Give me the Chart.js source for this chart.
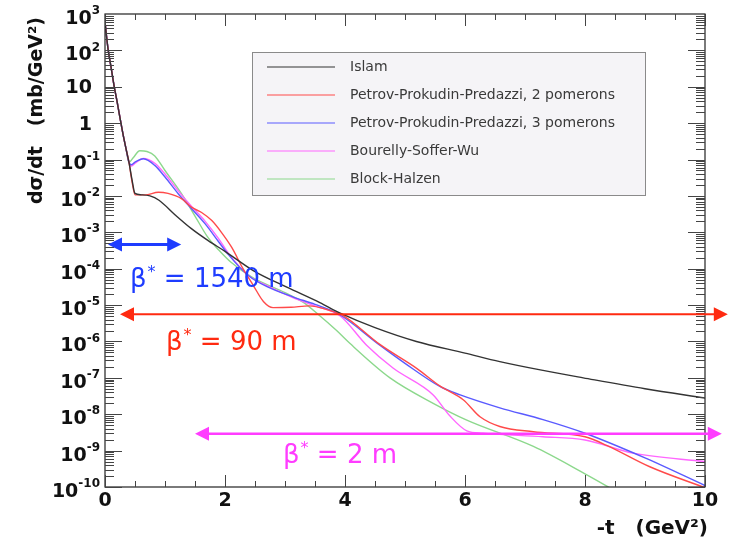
<!DOCTYPE html>
<html>
<head>
<meta charset="utf-8">
<script src="https://cdn.jsdelivr.net/npm/chart.js@4.4.0/dist/chart.umd.min.js"></script>
<style>
  body { margin: 0; background: #fff; }
  #wrap { width: 732px; height: 542px; }
</style>
</head>
<body>
<div id="wrap"><canvas id="c"></canvas></div>
<script>
// model curves: -t in GeV^2, dsigma/dt in mb/GeV^2
const models = [
  'Islam',
  'Petrov-Prokudin-Predazzi, 2 pomerons',
  'Petrov-Prokudin-Predazzi, 3 pomerons',
  'Bourelly-Soffer-Wu',
  'Block-Halzen'
];

const islamT = [0, 0.05, 0.1, 0.15, 0.2, 0.25, 0.3, 0.35, 0.4, 0.45, 0.5, 0.6, 0.75, 0.9, 1.17, 1.44, 1.72, 2.0, 2.47, 3.03, 3.58, 3.92, 4.5, 5.19, 6.0, 6.58, 7.3, 7.97, 9.0, 10];
const islamDs = [600, 112, 35, 11, 4.0, 1.4, 0.5, 0.2, 0.083, 0.028, 0.0117, 0.0107, 0.010, 0.0076, 0.0030, 0.00126, 5.9e-4, 3.0e-4, 8.9e-5, 3.1e-5, 1.17e-5, 6.0e-6, 2.4e-6, 1.0e-6, 4.8e-7, 2.8e-7, 1.6e-7, 1.0e-7, 5.0e-8, 2.8e-8];

const ppp2T = [0, 0.05, 0.1, 0.15, 0.2, 0.25, 0.3, 0.35, 0.4, 0.45, 0.5, 0.67, 0.89, 1.05, 1.28, 1.44, 1.61, 1.78, 1.94, 2.11, 2.3, 2.47, 2.64, 2.8, 3.1, 3.4, 3.75, 3.95, 4.58, 5.2, 5.58, 5.97, 6.25, 6.58, 7.14, 8.0, 8.36, 9.08, 10];
const ppp2Ds = [600, 112, 35, 11, 4.0, 1.4, 0.5, 0.2, 0.083, 0.025, 0.0107, 0.0107, 0.0126, 0.0117, 0.0083, 0.0049, 0.0035, 0.0021, 0.0010, 3.9e-4, 1.0e-4, 3.5e-5, 1.26e-5, 8.5e-6, 8.7e-6, 9.5e-6, 7.1e-6, 5.4e-6, 8.3e-7, 1.8e-7, 6.0e-8, 2.5e-8, 8.5e-9, 4.6e-9, 3.3e-9, 2.4e-9, 1.4e-9, 3.6e-10, 9.5e-11];

const ppp3T = [0, 0.05, 0.1, 0.15, 0.2, 0.25, 0.3, 0.35, 0.4, 0.44, 0.5, 0.64, 0.83, 1.0, 1.22, 1.44, 1.67, 1.89, 2.06, 2.4, 2.7, 3.14, 3.5, 3.9, 4.58, 5.0, 5.58, 5.92, 6.58, 7.3, 8.0, 9.0, 10];
const ppp3Ds = [600, 112, 35, 11, 4.0, 1.4, 0.5, 0.2, 0.083, 0.072, 0.085, 0.105, 0.069, 0.033, 0.0115, 0.0045, 0.0017, 5.6e-4, 2.4e-4, 6.3e-5, 3.2e-5, 1.66e-5, 1.05e-5, 5.6e-6, 7.9e-7, 2.5e-7, 5.8e-8, 3.4e-8, 1.5e-8, 7.1e-9, 3.0e-9, 6.3e-10, 1.1e-10];

const bswT = [0, 0.05, 0.1, 0.15, 0.2, 0.25, 0.3, 0.35, 0.4, 0.44, 0.5, 0.64, 0.83, 1.0, 1.22, 1.44, 1.67, 1.89, 2.06, 2.4, 2.7, 3.14, 3.5, 3.92, 4.36, 4.8, 5.47, 5.75, 6.03, 6.3, 6.58, 7.3, 8.0, 8.8, 10];
const bswDs = [600, 112, 35, 11, 4.0, 1.4, 0.5, 0.2, 0.083, 0.066, 0.079, 0.107, 0.079, 0.040, 0.0138, 0.0052, 0.0020, 6.8e-4, 2.6e-4, 6.3e-5, 3.4e-5, 1.58e-5, 9.5e-6, 5.0e-6, 7.9e-7, 1.86e-7, 3.4e-8, 8.9e-9, 3.5e-9, 3.0e-9, 2.8e-9, 2.4e-9, 1.95e-9, 8.5e-10, 5.0e-10];

const bhT = [0, 0.05, 0.1, 0.15, 0.2, 0.25, 0.3, 0.35, 0.4, 0.47, 0.58, 0.7, 0.83, 1.0, 1.28, 1.5, 1.7, 1.9, 2.1, 2.47, 3.0, 3.3, 3.55, 3.86, 4.08, 4.75, 5.47, 6.03, 7.14, 8.0, 8.5];
const bhDs = [600, 112, 35, 11, 4.0, 1.4, 0.5, 0.2, 0.083, 0.112, 0.174, 0.166, 0.126, 0.050, 0.0112, 0.0028, 7.9e-4, 3.2e-4, 1.5e-4, 5.6e-5, 2.2e-5, 1.2e-5, 5.6e-6, 2.0e-6, 8.9e-7, 1.0e-7, 2.0e-8, 6.9e-9, 1.3e-9, 2.3e-10, 7.9e-11];

// beta* reach arrows: t range and the level they sit at
const beamLabels = ['1540 m', '90 m', '2 m'];
const beamTFrom = [0.05, 0.25, 1.5];
const beamTTo = [1.27, 10.38, 10.28];
const beamLevel = [4.6e-4, 5.6e-6, 2.9e-9];

// axes
const xTickValues = [0, 2, 4, 6, 8, 10];
const xTickLabels = ['0', '2', '4', '6', '8', '10'];
const yTickValues = [1e-10, 1e-9, 1e-8, 1e-7, 1e-6, 1e-5, 1e-4, 1e-3, 1e-2, 1e-1, 1, 10, 1e2, 1e3];
const yTickLabels = ['10^-10', '10^-9', '10^-8', '10^-7', '10^-6', '10^-5', '10^-4', '10^-3', '10^-2', '10^-1', '1', '10', '10^2', '10^3'];

const curveColors = ['#333333', '#ff4a4a', '#5a5aff', '#ff66ff', '#8cd88c'];
const beamColors = ['#1e3cff', '#ff2a10', '#ff3cff'];

const curves = [
  [islamT, islamDs], [ppp2T, ppp2Ds], [ppp3T, ppp3Ds], [bswT, bswDs], [bhT, bhDs]
];

const BOLD = 'bold 19px "DejaVu Sans"';
const SUP = 'bold 12px "DejaVu Sans"';

function drawLegend(ctx) {
  ctx.save();
  ctx.fillStyle = '#f5f4f7';
  ctx.fillRect(252, 52, 393, 143);
  ctx.strokeStyle = '#8a8a8a';
  ctx.lineWidth = 1;
  ctx.strokeRect(252.5, 52.5, 393, 143);
  ctx.font = '14px "DejaVu Sans"';
  ctx.textBaseline = 'middle';
  models.forEach((m, i) => {
    const yy = 67 + i * 28;
    ctx.strokeStyle = curveColors[i];
    ctx.lineWidth = 1.2;
    ctx.beginPath();
    ctx.moveTo(267, yy); ctx.lineTo(335, yy);
    ctx.stroke();
    ctx.fillStyle = '#3a3a3a';
    ctx.fillText(m, 350, yy);
  });
  ctx.restore();
}

function arrowHead(ctx, px, py, dir) {
  ctx.beginPath();
  ctx.moveTo(px, py);
  ctx.lineTo(px - dir * 14, py - 7);
  ctx.lineTo(px - dir * 14, py + 7);
  ctx.closePath();
  ctx.fill();
}

function betaText(ctx, text, left, base, color) {
  ctx.fillStyle = color;
  ctx.textBaseline = 'alphabetic';
  ctx.textAlign = 'left';
  ctx.font = '26px "DejaVu Sans"';
  ctx.fillText('\u03b2', left, base);
  let x = left + ctx.measureText('\u03b2').width + 1;
  ctx.font = '16px "DejaVu Sans"';
  ctx.fillText('*', x, base - 10);
  x += ctx.measureText('*').width;
  ctx.font = '26px "DejaVu Sans"';
  ctx.fillText(' = ' + text, x, base);
}

const decor = {
  id: 'decor',
  beforeDatasetsDraw(chart) {
    drawLegend(chart.ctx);
  },
  afterDatasetsDraw(chart) {
    const { ctx, chartArea: a, scales: { x, y } } = chart;
    ctx.save();

    // frame
    ctx.strokeStyle = '#222';
    ctx.lineWidth = 1.2;
    ctx.strokeRect(a.left, a.top, a.right - a.left, a.bottom - a.top);

    // inward ticks, all four sides
    ctx.strokeStyle = '#444';
    ctx.lineWidth = 1;
    ctx.beginPath();
    for (let t = 0; t <= 10.001; t += 0.5) {
      const px = Math.round(x.getPixelForValue(t)) + 0.5;
      const len = xTickValues.includes(Math.round(t * 10) / 10) ? 12 : 6;
      ctx.moveTo(px, a.bottom); ctx.lineTo(px, a.bottom - len);
      ctx.moveTo(px, a.top); ctx.lineTo(px, a.top + len);
    }
    for (let e = -10; e <= 2; e++) {
      for (let m = 1; m <= 9; m++) {
        const v = m * Math.pow(10, e);
        const py = Math.round(y.getPixelForValue(v)) + 0.5;
        const len = m === 1 ? 17 : 9;
        ctx.moveTo(a.left, py); ctx.lineTo(a.left + len, py);
        ctx.moveTo(a.right, py); ctx.lineTo(a.right - len, py);
      }
    }
    ctx.stroke();

    // tick labels
    ctx.fillStyle = '#111';
    ctx.textBaseline = 'middle';
    xTickValues.forEach((v, i) => {
      ctx.font = BOLD;
      ctx.textAlign = 'center';
      ctx.fillText(xTickLabels[i], x.getPixelForValue(v), a.bottom + 14);
    });
    yTickValues.forEach((v, i) => {
      const py = y.getPixelForValue(v);
      const parts = yTickLabels[i].split('^');
      if (parts.length === 1) {
        ctx.font = BOLD;
        ctx.textAlign = 'right';
        ctx.fillText(parts[0], a.left - 13, py + 1.5);
      } else {
        ctx.font = SUP;
        const sw = ctx.measureText(parts[1]).width;
        ctx.textAlign = 'left';
        ctx.fillText(parts[1], a.left - 5 - sw, py - 3);
        ctx.font = BOLD;
        ctx.textAlign = 'right';
        ctx.fillText(parts[0], a.left - 5 - sw, py + 5);
      }
    });

    // axis titles
    ctx.font = 'bold 19px "DejaVu Sans"';
    ctx.textAlign = 'right';
    ctx.save();
    ctx.translate(37, 17);
    ctx.rotate(-Math.PI / 2);
    ctx.fillText('d\u03c3/dt   (mb/GeV\u00b2)', 0, 0);
    ctx.restore();
    ctx.font = 'bold 20px "DejaVu Sans"';
    ctx.fillText('-t   (GeV\u00b2)', 708, 529);

    // beta* arrows
    const labelAt = [[130, 287], [166, 350], [283, 463]];
    const widths = [3, 2, 2.5];
    beamLabels.forEach((lab, i) => {
      const x1 = x.getPixelForValue(beamTFrom[i]);
      const x2 = x.getPixelForValue(beamTTo[i]);
      const py = y.getPixelForValue(beamLevel[i]);
      ctx.strokeStyle = beamColors[i];
      ctx.fillStyle = beamColors[i];
      ctx.lineWidth = widths[i];
      ctx.beginPath();
      ctx.moveTo(x1 + 8, py); ctx.lineTo(x2 - 8, py);
      ctx.stroke();
      arrowHead(ctx, x1, py, -1);
      arrowHead(ctx, x2, py, 1);
      betaText(ctx, lab, labelAt[i][0], labelAt[i][1], beamColors[i]);
    });

    ctx.restore();
  }
};

new Chart(document.getElementById('c'), {
  type: 'line',
  data: {
    datasets: curves.map((c, i) => ({
      label: models[i],
      data: c[0].map((t, k) => ({ x: t, y: c[1][k] })),
      borderColor: curveColors[i],
      borderWidth: 1.4,
      pointRadius: 0,
      fill: false,
      cubicInterpolationMode: 'monotone'
    }))
  },
  options: {
    responsive: true,
    maintainAspectRatio: false,
    animation: false,
    layout: { padding: { left: 105, right: 27, top: 14, bottom: 55 } },
    plugins: { legend: { display: false }, tooltip: { enabled: false } },
    scales: {
      x: { type: 'linear', min: 0, max: 10, display: false },
      y: { type: 'logarithmic', min: 1e-10, max: 1e3, display: false }
    }
  },
  plugins: [decor]
});
</script>
</body>
</html>
